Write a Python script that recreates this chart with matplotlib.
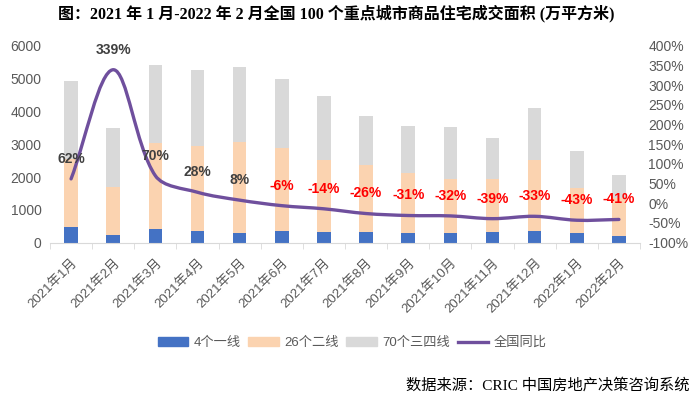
import numpy as np
import matplotlib
matplotlib.use('Agg')
import matplotlib.pyplot as plt
from matplotlib.path import Path
from matplotlib.patches import PathPatch, Patch
from matplotlib.lines import Line2D

plt.rcParams['font.family'] = ['Liberation Sans', 'Noto Sans CJK SC', 'DejaVu Sans']

# Daten
months = ['2021年1月', '2021年2月', '2021年3月', '2021年4月', '2021年5月', '2021年6月',
          '2021年7月', '2021年8月', '2021年9月', '2021年10月', '2021年11月', '2021年12月',
          '2022年1月', '2022年2月']
tier1 = [470, 235, 408, 347, 286, 366, 316, 326, 296, 306, 336, 356, 306, 204]
tier2_top = [2550, 1707, 3030, 2948, 3080, 2877, 2521, 2369, 2134, 1942, 1932, 2521, 1658, 1350]
total = [4939, 3487, 5397, 5265, 5347, 4990, 4472, 3872, 3567, 3518, 3192, 4097, 2805, 2063]
yoy = [62, 339, 70, 28, 8, -6, -14, -26, -31, -32, -39, -33, -43, -41]

tier2 = [b - a for a, b in zip(tier1, tier2_top)]
tier3 = [c - b for b, c in zip(tier2_top, total)]

c_blue = '#4472C4'
c_peach = '#FBD3B0'
c_gray = '#D9D9D9'
c_line = '#6F4F9D'
c_text = '#595959'

fig = plt.figure(figsize=(7, 4), dpi=100)
ax = fig.add_axes([50 / 700, 1 - 242.7 / 400, 590 / 700, 197 / 400])
ax2 = ax.twinx()

x = np.arange(len(months))
w = 0.32
ax.bar(x, tier1, w, color=c_blue)
ax.bar(x, tier2, w, bottom=tier1, color=c_peach)
ax.bar(x, tier3, w, bottom=tier2_top, color=c_gray)

ax.set_xlim(-0.5, len(months) - 0.5)
ax.set_ylim(0, 6000)
ax.set_yticks(range(0, 6001, 1000))
ax2.set_ylim(-100, 400)
ax2.set_yticks(range(-100, 401, 50))
ax2.set_yticklabels([f'{v}%' for v in range(-100, 401, 50)])

# geglaettete Linie (Bezier durch die Datenpunkte, Laengen wie in Pixeln)
k = (197 / 500) / (590 / len(months))  # Seitenverhaeltnis %-Einheit zu Kategorie
pts = np.column_stack([x, np.array(yoy, dtype=float) * k])
n = len(pts)
verts = [tuple(pts[0])]
codes = [Path.MOVETO]
out_c = []
in_c = []
for i in range(n):
    pa = pts[max(i - 1, 0)]
    pb = pts[min(i + 1, n - 1)]
    t = pb - pa
    d1 = np.linalg.norm(pts[i] - pa)
    d2 = np.linalg.norm(pb - pts[i])
    s = d1 + d2 if d1 + d2 > 0 else 1
    out_c.append(pts[i] + t * (d2 / s) / 3)
    in_c.append(pts[i] - t * (d1 / s) / 3)
for i in range(n - 1):
    verts += [tuple(out_c[i]), tuple(in_c[i + 1]), tuple(pts[i + 1])]
    codes += [Path.CURVE4] * 3
verts = [(vx, vy / k) for vx, vy in verts]
ax2.add_patch(PathPatch(Path(verts, codes), fill=False, edgecolor=c_line, lw=2.4,
                        capstyle='round', joinstyle='round', zorder=3))

for xi, v in zip(x, yoy):
    col = '#404040' if v >= 0 else '#FF0000'
    ax2.annotate(f'{v}%', (xi, v), xytext=(0, 14.5), textcoords='offset points',
                 ha='center', va='center', fontsize=10, fontweight='bold', color=col, zorder=4)

for a in (ax, ax2):
    for s in ('top', 'left', 'right'):
        a.spines[s].set_visible(False)
    a.tick_params(axis='y', length=0, labelsize=10, labelcolor=c_text, pad=6)
ax2.spines['bottom'].set_visible(False)
ax.spines['bottom'].set_color('#D9D9D9')
ax.set_xticks(x)
ax.set_xticklabels(months, rotation=45, ha='right', rotation_mode='anchor')
ax.set_xticks(np.arange(-0.5, len(months), 1), minor=True)
ax.tick_params(axis='x', which='major', length=0, labelsize=9.5, labelcolor=c_text, pad=10)
ax.tick_params(axis='x', which='minor', length=4, color='#D9D9D9')

handles = [Patch(color=c_blue), Patch(color=c_peach), Patch(color=c_gray),
           Line2D([0], [0], color=c_line, lw=2.4)]
labels = ['4个一线', '26个二线', '70个三四线', '全国同比']
fig.legend(handles, labels, loc='center', bbox_to_anchor=(352 / 700, 1 - 343 / 400), ncol=4,
           frameon=False, fontsize=9.5, labelcolor=c_text, handlelength=2.3, handleheight=0.6,
           handletextpad=0.4, columnspacing=0.6)

fig.text(336 / 700, 1 - 13 / 400, '图：2021 年 1 月-2022 年 2 月全国 100 个重点城市商品住宅成交面积 (万平方米)',
         ha='center', va='center', fontsize=11.5, fontweight='bold',
         family=['Liberation Serif', 'Noto Sans CJK SC'])
fig.text(690 / 700, 1 - 385 / 400, '数据来源：CRIC 中国房地产决策咨询系统', ha='right', va='center',
         fontsize=11, family=['Liberation Serif', 'Noto Sans CJK SC'])

fig.savefig('out.png', dpi=100)
